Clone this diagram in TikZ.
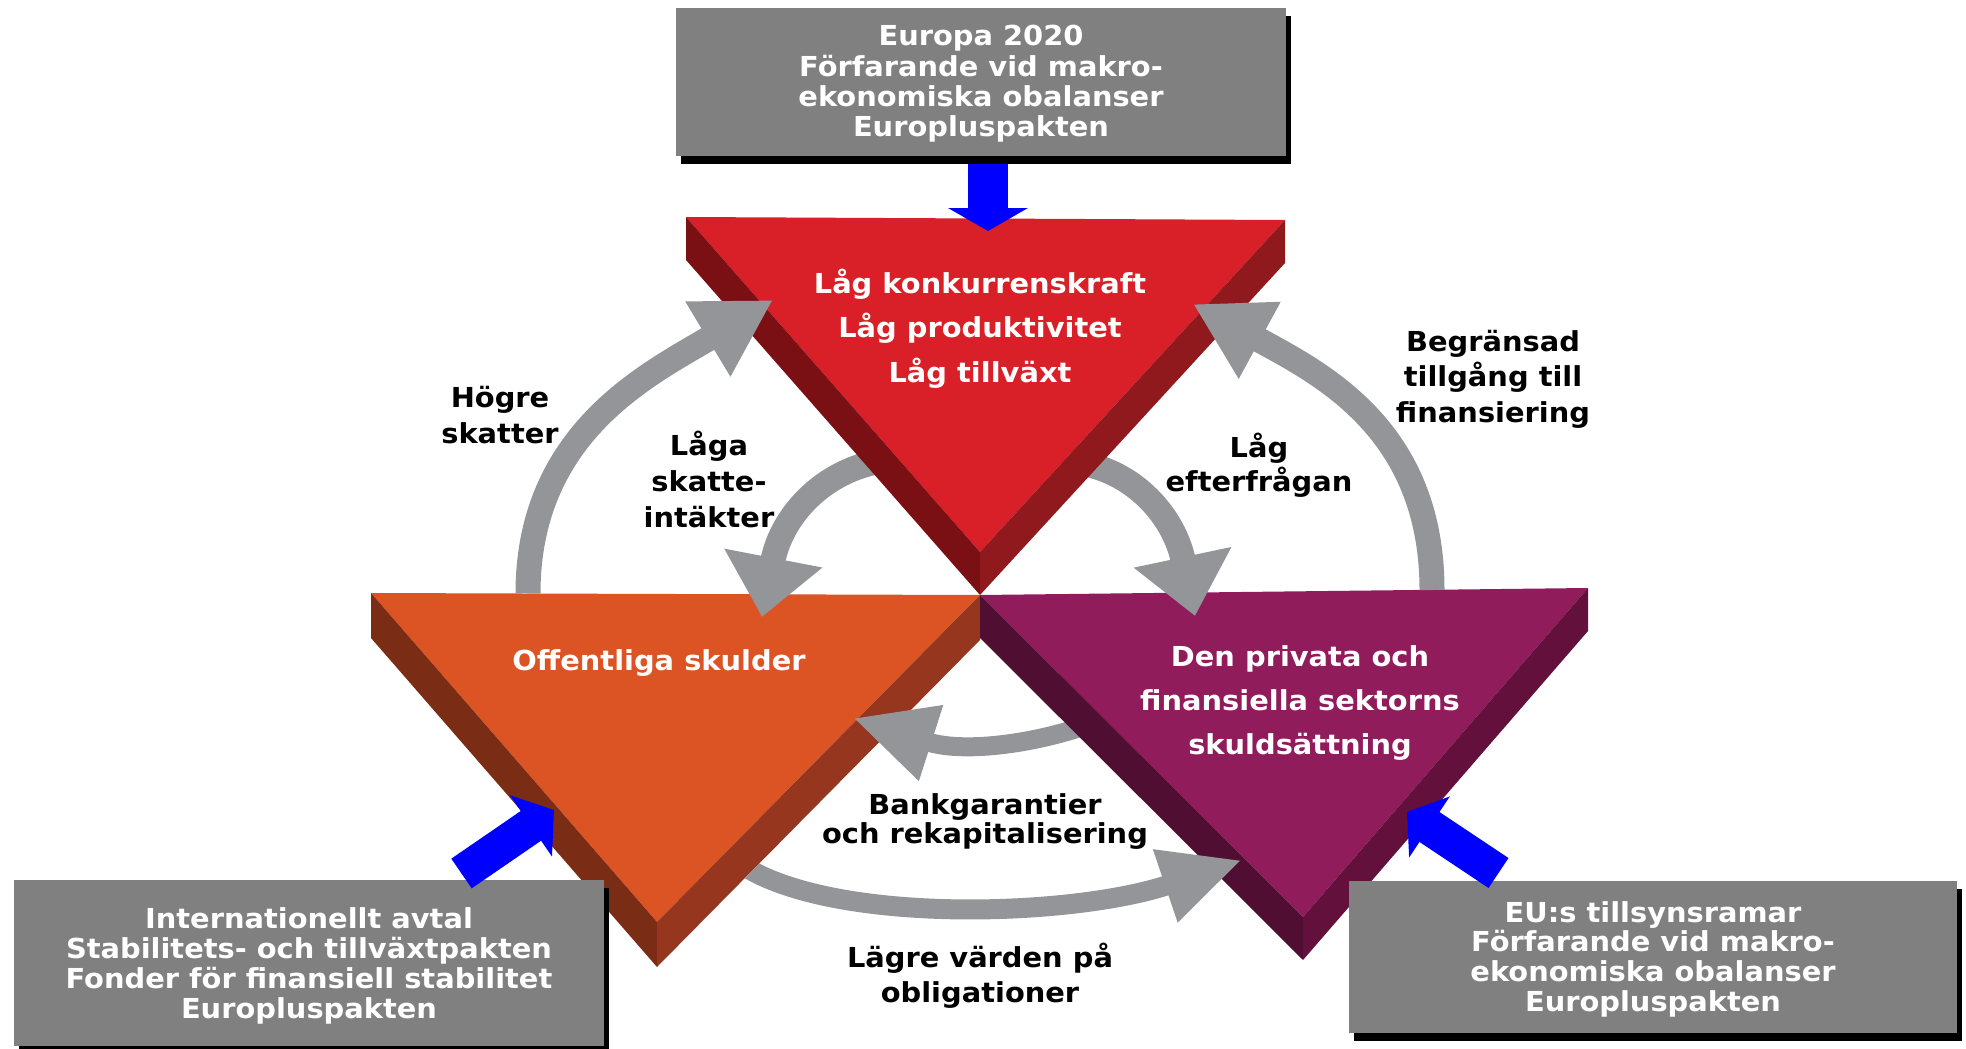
\documentclass[tikz,border=0pt]{standalone}
\usepackage{fontspec}
\setmainfont{DejaVu Sans}[FakeStretch=1.05]
\usetikzlibrary{arrows.meta,shadows}
\definecolor{redface}{HTML}{D91F27}
\definecolor{redleft}{HTML}{7A0F14}
\definecolor{redright}{HTML}{90191E}
\definecolor{orface}{HTML}{DC5424}
\definecolor{orleft}{HTML}{7A2C15}
\definecolor{orright}{HTML}{96361F}
\definecolor{puface}{HTML}{901C5B}
\definecolor{puleft}{HTML}{500F32}
\definecolor{puright}{HTML}{64103C}
\definecolor{arrgray}{HTML}{939598}
\definecolor{boxgray}{HTML}{808080}
\newcommand{\mlines}[1]{\begin{tabular}[t]{@{}c@{}}#1\end{tabular}}
\begin{document}
\begin{tikzpicture}[x=1pt,y=-1pt,
  lbl/.style={anchor=base,inner sep=0pt,text=black,font=\bfseries\fontsize{27.5}{#1}\selectfont},
  tritext/.style={anchor=base,inner sep=0pt,text=white,font=\bfseries\fontsize{27.5}{#1}\selectfont},
  box/.style={fill=boxgray,inner sep=0pt,text=white,
    drop shadow={shadow xshift=5pt,shadow yshift=-8pt,opacity=1,fill=black},
    text height=21pt},
  grayarrow/.style={draw=arrgray,line width=#1},
  bluearrow/.style={draw=blue,line width=#1},
]
\useasboundingbox (0,0) rectangle (1966,1049);
% triangle corners
\coordinate (R1) at (686,217); \coordinate (R2) at (1285,220); \coordinate (Rt) at (980,552);
\coordinate (R1b) at (686,260); \coordinate (R2b) at (1285,263); \coordinate (Rtb) at (980,595);
\coordinate (O1) at (371,593); \coordinate (O2) at (980,595); \coordinate (Ot) at (657,922);
\coordinate (O1b) at (371,638); \coordinate (O2b) at (980,640); \coordinate (Otb) at (657,967);
\coordinate (P1) at (980,595); \coordinate (P2) at (1588,588); \coordinate (Pt) at (1303,917);
\coordinate (P1b) at (980,638); \coordinate (P2b) at (1588,631); \coordinate (Ptb) at (1303,960);
% arrow end points
\coordinate (a1s) at (528,593.5); \coordinate (a1e) at (773,300);
\coordinate (a4s) at (1432,590); \coordinate (a4e) at (1193,304);
\coordinate (a2s) at (890,460); \coordinate (a2e) at (762,617);
\coordinate (a3s) at (1070,462); \coordinate (a3e) at (1195,616);
\coordinate (a5s) at (1095,722); \coordinate (a5e) at (853,718);
\coordinate (a6s) at (735,860); \coordinate (a6e) at (1242,860);

% orange triangle
\fill[orface] (O1) -- (O2) -- (Ot) -- cycle;
\fill[orleft] (O1) -- (Ot) -- (Otb) -- (O1b) -- cycle;
\fill[orright] (O2) -- (O2b) -- (Otb) -- (Ot) -- cycle;

% Bankgarantier arrow
\draw[grayarrow=19pt,-{Triangle[width=74pt,length=82pt]}] (a5s) .. controls (1050,740) and (969,755.2) .. (a5e);

% purple triangle
\fill[puface] (P1) -- (P2) -- (Pt) -- cycle;
\fill[puleft] (P1) -- (Pt) -- (Ptb) -- (P1b) -- cycle;
\fill[puright] (P2) -- (P2b) -- (Ptb) -- (Pt) -- cycle;

% inner arrows from red
\draw[grayarrow=25pt,-{Triangle[width=96pt,length=60pt]}] (a2s) .. controls (828,466) and (782,513) .. (a2e);
\draw[grayarrow=25pt,-{Triangle[width=96pt,length=60pt]}] (a3s) .. controls (1128,466) and (1173,512) .. (a3e);

% red triangle
\fill[redface] (R1) -- (R2) -- (Rt) -- cycle;
\fill[redleft] (R1) -- (Rt) -- (Rtb) -- (R1b) -- cycle;
\fill[redright] (R2) -- (R2b) -- (Rtb) -- (Rt) -- cycle;

% outer arrows to red
\draw[grayarrow=25pt,-{Triangle[width=82pt,length=76pt]}] (a1s) .. controls (528,431.5) and (650.4,373.5) .. (a1e);
\draw[grayarrow=25pt,-{Triangle[width=82pt,length=76pt]}] (a4s) .. controls (1432,428.5) and (1319.9,373.1) .. (a4e);

% lower arrow from orange to purple
\begin{scope}
\clip (980,640) -- (1966,640) -- (1966,1049) -- (576,1049) -- cycle;
\draw[grayarrow=20pt,-{Triangle[width=71pt,length=81pt]}] (a6s) .. controls (820,925) and (1070.3,918) .. (a6e);
\end{scope}

% triangle texts
\node[tritext=44.5] (redtxt) at (980,293) {\mlines{Låg konkurrenskraft\\Låg produktivitet\\Låg tillväxt}};
\node[tritext=44] (ortxt) at (659,670) {Offentliga skulder};
\node[tritext=44] (putxt) at (1300,666) {\mlines{Den privata och\\finansiella sektorns\\skuldsättning}};

% labels
\node[lbl=36] (l1) at (500,407) {\mlines{Högre\\skatter}};
\node[lbl=36] (l2) at (709,455) {\mlines{Låga\\skatte-\\intäkter}};
\node[lbl=34.5] (l3) at (1259,457) {\mlines{Låg\\efterfrågan}};
\node[lbl=35.5] (l4) at (1493,351) {\mlines{Begränsad\\tillgång till\\finansiering}};
\node[lbl=29] (l5) at (985,814) {\mlines{Bankgarantier\\och rekapitalisering}};
\node[lbl=35] (l6) at (980,967) {\mlines{Lägre värden på\\obligationer}};

% top arrow and box
\coordinate (tA) at (988,164); \coordinate (tB) at (988,231);
\draw[bluearrow=40pt,-{Triangle[width=79pt,length=23pt]}] (tA) -- (tB);
\node[box,minimum width=610pt,minimum height=148pt,text depth=93pt,
  font=\bfseries\fontsize{27.5}{30}\selectfont] (topbox) at (981,82)
  {\mlines{Europa 2020\\Förfarande vid makro-\\ekonomiska obalanser\\Europluspakten}};

% bottom boxes
\node[box,minimum width=590pt,minimum height=166pt,text depth=91pt,
  font=\bfseries\fontsize{27.5}{30}\selectfont] (blbox) at (309,963)
  {\mlines{Internationellt avtal\\Stabilitets- och tillväxtpakten\\Fonder för finansiell stabilitet\\Europluspakten}};
\node[box,minimum width=608pt,minimum height=152pt,text depth=91pt,
  font=\bfseries\fontsize{27.5}{29}\selectfont] (brbox) at (1653,957)
  {\mlines{EU:s tillsynsramar\\Förfarande vid makro-\\ekonomiska obalanser\\Europluspakten}};

% blue arrows
\coordinate (bl1) at (461.5,873.5); \coordinate (bl2) at (554,810);
\coordinate (br1) at (1498.5,873); \coordinate (br2) at (1407,812);
\draw[bluearrow=36pt,-{Triangle[width=73pt,length=28pt]}] (bl1) -- (bl2);
\draw[bluearrow=36pt,-{Triangle[width=72pt,length=27pt]}] (br1) -- (br2);
\end{tikzpicture}
\end{document}
